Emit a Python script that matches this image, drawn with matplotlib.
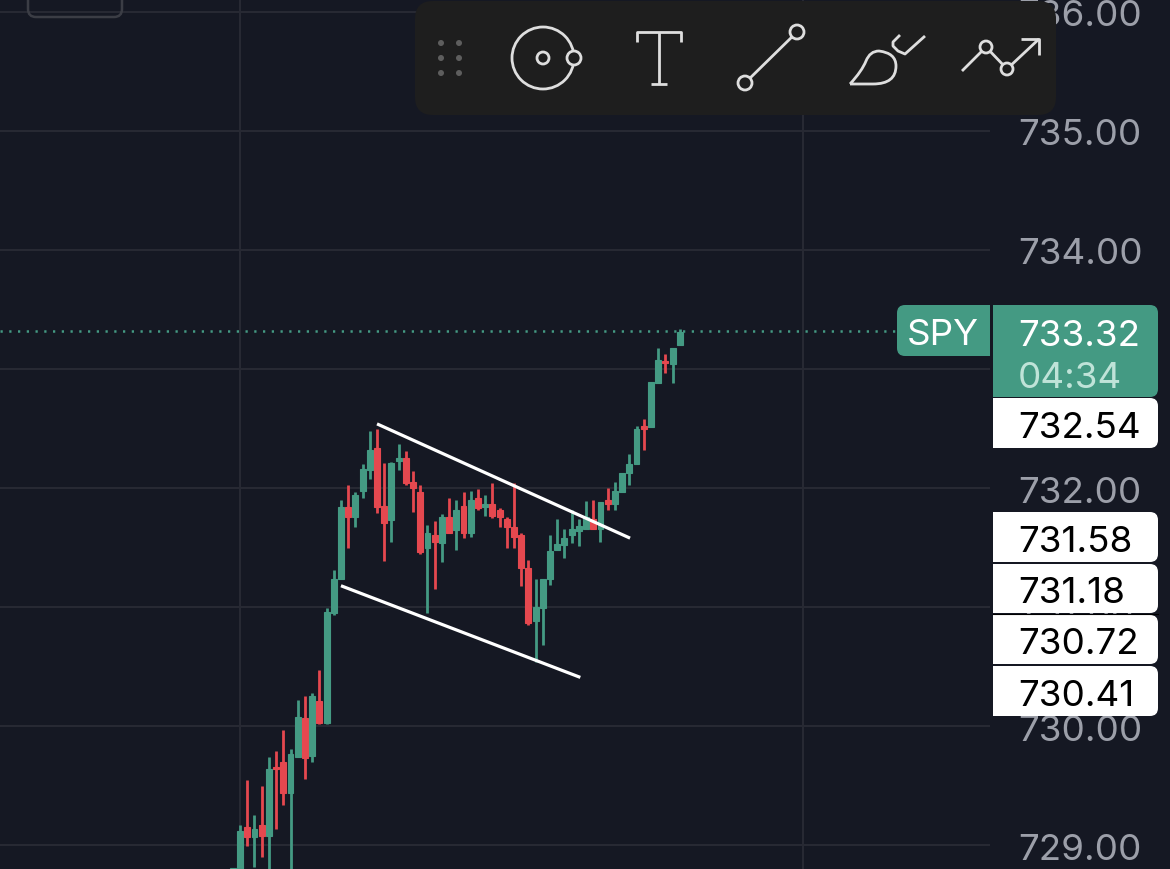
import matplotlib
matplotlib.use("Agg")
import matplotlib.pyplot as plt
import numpy as np
from matplotlib.patches import Circle, FancyBboxPatch, PathPatch, Rectangle
from matplotlib.path import Path
from matplotlib.transforms import blended_transform_factory

plt.rcParams["font.family"] = ["Inter", "DejaVu Sans"]

BG = "#151823"
GREEN = "#449a83"
RED = "#e5484f"
GRID = "#272933"
TICK = "#9c9fa9"
PANEL = "#1e1e1e"
ICON = "#dedede"
FONT_SIZE = 26.5
TEXT_X = 1018

# bar -1 is the sliver cut off by the bottom edge
bar_index = np.arange(-1, 62)
opens = [
    728.71, 728.71, 729.15, 729.07, 729.17, 729.08, 729.66, 729.70, 729.44, 729.74, 730.07, 729.75, 730.21,
    730.03, 730.95, 731.24, 731.84, 731.76, 731.98, 732.15, 732.34, 731.85, 731.73, 732.23, 732.25, 732.05,
    731.97, 731.50, 731.61, 731.54, 731.76, 731.65, 731.85, 731.62, 731.92, 731.84, 731.87, 731.82, 731.74,
    731.67, 731.61, 731.33, 730.88, 730.99, 731.24, 731.48, 731.52, 731.61, 731.64, 731.66, 731.74, 731.66,
    731.90, 731.87, 731.97, 732.13, 732.20, 732.52, 732.51, 732.88, 733.07, 733.04, 733.20,
]
closes = [
    728.81, 729.12, 729.07, 729.14, 729.08, 729.64, 729.64, 729.44, 729.77, 730.08, 729.73, 730.25, 730.03,
    730.96, 731.24, 731.84, 731.76, 731.94, 732.16, 732.32, 731.84, 731.71, 732.21, 732.25, 732.04, 732.00,
    731.46, 731.62, 731.55, 731.76, 731.62, 731.82, 731.62, 731.90, 731.83, 731.87, 731.77, 731.76, 731.67,
    731.59, 731.33, 730.87, 731.00, 731.24, 731.47, 731.53, 731.58, 731.66, 731.68, 731.76, 731.66, 731.88,
    731.87, 731.98, 732.13, 732.20, 732.50, 732.50, 732.89, 733.08, 733.05, 733.18, 733.31,
]
highs = [
    728.81, 729.17, 729.55, 729.25, 729.50, 729.74, 729.79, 729.97, 729.81, 730.22, 730.25, 730.28, 730.47,
    730.99, 731.31, 731.90, 732.03, 731.97, 732.20, 732.48, 732.50, 732.21, 732.22, 732.37, 732.31, 732.14,
    732.03, 731.69, 731.72, 731.78, 731.92, 731.90, 731.97, 731.98, 731.99, 731.94, 732.04, 731.83, 731.76,
    732.04, 731.62, 731.40, 731.24, 731.24, 731.61, 731.74, 731.66, 731.82, 731.74, 731.89, 731.90, 731.88,
    732.00, 732.05, 732.13, 732.29, 732.52, 732.58, 732.89, 733.18, 733.13, 733.18, 733.34,
]
lows = [
    728.65, 728.62, 728.99, 728.82, 728.90, 728.62, 729.14, 729.34, 728.58, 729.74, 729.56, 729.70, 730.02,
    730.02, 730.93, 731.24, 731.50, 731.67, 731.92, 732.08, 731.79, 731.39, 731.55, 732.15, 732.03, 731.80,
    731.45, 730.95, 731.15, 731.38, 731.62, 731.48, 731.58, 731.59, 731.82, 731.77, 731.75, 731.67, 731.50,
    731.50, 731.18, 730.85, 730.54, 730.68, 731.19, 731.48, 731.41, 731.54, 731.51, 731.66, 731.66, 731.55,
    731.82, 731.82, 731.97, 732.03, 732.20, 732.32, 732.51, 732.88, 732.97, 732.88, 733.20,
]

# drawn trend channel: (bar, price) at each end
upper_bars = [19.0, 54.1]
upper_prices = [732.54, 731.58]
lower_bars = [14.0, 47.2]
lower_prices = [731.18, 730.41]

y_ticks = [729, 730, 731, 732, 733, 734, 735, 736]
v_grid_bars = [0, 78.1]
last_price = 733.32
countdown = "04:34"
symbol = "SPY"
level_labels = ["732.54", "731.58", "731.18", "730.72", "730.41"]
level_boxes = [(399, 449), (513, 563), (565, 614), (616, 665), (667, 717)]

fig = plt.figure(figsize=(11.7, 8.7), dpi=100, facecolor=BG)
ax = fig.add_axes([0, 0, 1, 1], facecolor=BG)
ax.set_xlim(-33.3, 129.0)
ax.set_ylim(728.80, 736.11)
ax.axis("off")

# grid stops at the price scale
scale_left = 990 / 1170
ax.hlines(y_ticks, 0, scale_left, color=GRID, lw=1.5, transform=ax.get_yaxis_transform(), zorder=1)
ax.vlines(v_grid_bars, 728.80, 736.11, color=GRID, lw=1.5, zorder=1)
ax.hlines(last_price, 0, 897 / 1170, color=GREEN, lw=1.8, linestyles=(0, (0.9, 2.6)),
          transform=ax.get_yaxis_transform(), zorder=2)

opens, closes, highs, lows = map(np.array, (opens, closes, highs, lows))
colors = np.where(closes >= opens, GREEN, RED)
ax.vlines(bar_index, lows, highs, colors=colors, lw=2.0, zorder=3)
ax.bar(bar_index, np.abs(closes - opens), bottom=np.minimum(opens, closes), width=0.82,
       color=colors, edgecolor=colors, lw=0.8, zorder=4)

ax.plot(upper_bars, upper_prices, color="white", lw=2.3, solid_capstyle="butt", zorder=5)
ax.plot(lower_bars, lower_prices, color="white", lw=2.3, solid_capstyle="butt", zorder=5)

tick_tf = blended_transform_factory(ax.transAxes, ax.transData)
for tick in y_ticks:
    # 733.00 sits fully behind the last price tag
    if tick == 733:
        continue
    ax.text(TEXT_X / 1170, tick - 0.003, f"{tick}.00", transform=tick_tf,
            color=TICK, fontsize=FONT_SIZE, va="center_baseline", ha="left", zorder=6)

# interface layer in screen pixels
ui = fig.add_axes([0, 0, 1, 1], facecolor="none")
ui.set_xlim(0, 1170)
ui.set_ylim(870, 0)
ui.axis("off")


def tag(x0, x1, y0, y1, color, square_side="left", z=10):
    ui.add_patch(FancyBboxPatch((x0 + 8, y0 + 8), x1 - x0 - 16, y1 - y0 - 16, boxstyle="round,pad=8,rounding_size=8",
                                fc=color, ec="none", zorder=z))
    if square_side == "left":
        ui.add_patch(Rectangle((x0, y0), (x1 - x0) / 2, y1 - y0, fc=color, ec="none", zorder=z))
    else:
        ui.add_patch(Rectangle(((x0 + x1) / 2, y0), (x1 - x0) / 2, y1 - y0, fc=color, ec="none", zorder=z))


for label, (y0, y1) in zip(level_labels, level_boxes):
    tag(993, 1158, y0, y1, "white")
    ui.text(TEXT_X, (y0 + y1) / 2 + 1, label, color="black", fontsize=FONT_SIZE, va="center_baseline", ha="left", zorder=11)
ui.plot([993, 1158], [614.5, 614.5], color="black", lw=0.8, zorder=12)

tag(993, 1158, 306, 398, GREEN)
ui.text(TEXT_X, 333, f"{last_price:.2f}", color="white", fontsize=FONT_SIZE, va="center_baseline", ha="left", zorder=11)
ui.text(TEXT_X, 375, countdown, color="#bfe3d8", fontsize=FONT_SIZE, va="center_baseline", ha="left", zorder=11)
tag(897, 990, 306, 357, GREEN, square_side="right")
ui.text(943, 332, symbol, color="white", fontsize=FONT_SIZE, va="center_baseline", ha="center", zorder=11)

# stray widget at the top left
ui.add_patch(FancyBboxPatch((36, -20), 78, 30, boxstyle="round,pad=8,rounding_size=8", fc="none",
                            ec="#3b3d45", lw=1.8, zorder=8))

# drawing toolbar
ui.add_patch(FancyBboxPatch((433, 20), 605, 78, boxstyle="round,pad=18,rounding_size=18", fc=PANEL, ec="none", zorder=20))
for dx in (441, 459):
    for dy in (44, 59, 74):
        ui.add_patch(Circle((dx, dy), 3, fc="#5e5e5e", ec="none", zorder=21))

icon_lw = 2.0


def ring(x, y, r):
    ui.add_patch(Circle((x, y), r, fc=PANEL, ec=ICON, lw=icon_lw, zorder=23))


def stroke(xs, ys):
    ui.plot(xs, ys, color=ICON, lw=icon_lw, solid_capstyle="butt", solid_joinstyle="round", zorder=22)


ui.add_patch(Circle((543, 59), 31, fc="none", ec=ICON, lw=icon_lw, zorder=22))
ring(543, 59, 6)
ring(574, 59, 7)

stroke([637, 637, 681, 681], [43, 33, 33, 43])
stroke([659, 659], [33, 85])
stroke([651, 667], [85, 85])

stroke([745, 797], [84, 33])
ring(797, 33, 7)
ring(745, 84, 7)

brush = Path(
    [(850, 85), (862, 72), (866, 62), (870, 52), (879, 52), (896, 54), (896, 67), (896, 85), (873, 85), (850, 85)],
    [Path.MOVETO, Path.CURVE3, Path.CURVE3, Path.CURVE3, Path.CURVE3, Path.CURVE3, Path.CURVE3, Path.CURVE3, Path.CURVE3, Path.LINETO],
)
ui.add_patch(PathPatch(brush, fc="none", ec=ICON, lw=icon_lw, zorder=22))
stroke([900, 893, 893, 898, 905, 925], [36, 43, 47, 52, 55, 37])

stroke([962, 986, 1007, 1039], [72, 48, 70, 40])
stroke([1021, 1039, 1039], [40, 40, 56])
ring(986, 48, 6)
ring(1007, 70, 6)

fig.savefig("out.png", dpi=100, facecolor=BG)
